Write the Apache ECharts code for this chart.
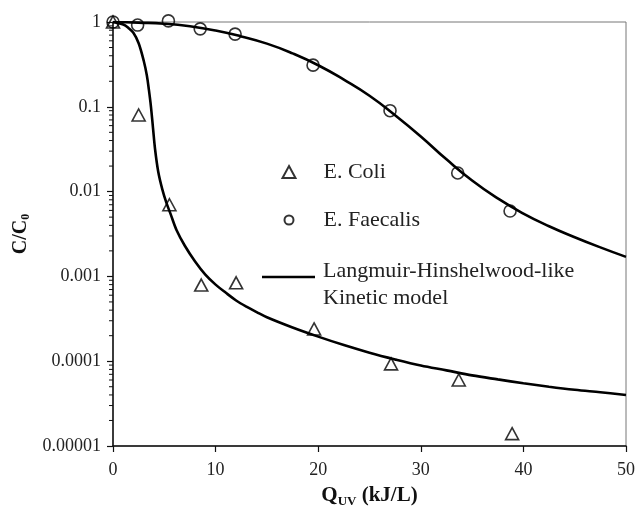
<!DOCTYPE html>
<html><head><meta charset="utf-8">
<script src="https://cdn.jsdelivr.net/npm/echarts@6/dist/echarts.min.js"></script>
<style>html,body{margin:0;padding:0;background:#fff}#c{width:635px;height:508px}</style>
</head><body><div id="c"></div>
<script>
const xMin = 0, xMax = 50, xStep = 10;
const yTickLabels = ['0.00001', '0.0001', '0.001', '0.01', '0.1', '1'];
const yMinorTicks = [
  0.00002, 0.00003, 0.00004, 0.00005, 0.00006, 0.00007, 0.00008, 0.00009,
  0.0002, 0.0003, 0.0004, 0.0005, 0.0006, 0.0007, 0.0008, 0.0009,
  0.002, 0.003, 0.004, 0.005, 0.006, 0.007, 0.008, 0.009,
  0.02, 0.03, 0.04, 0.05, 0.06, 0.07, 0.08, 0.09,
  0.2, 0.3, 0.4, 0.5, 0.6, 0.7, 0.8, 0.9
];
const eColi = [
  [0, 1], [2.5, 0.08], [5.5, 0.007], [8.6, 0.00079], [12.0, 0.00084],
  [19.6, 0.00024], [27.1, 0.000093], [33.7, 0.00006], [38.9, 0.000014]
];
const eFaecalis = [
  [0, 1], [2.4, 0.92], [5.4, 1.03], [8.5, 0.83], [11.9, 0.72],
  [19.5, 0.31], [27.0, 0.09], [33.6, 0.0166], [38.7, 0.0059]
];
const modelColi = [
  [0, 1], [1, 0.933], [1.5, 0.851], [2, 0.741], [2.5, 0.562], [3, 0.347], [3.3, 0.234],
  [3.5, 0.158], [3.7, 0.1], [3.9, 0.056], [4.1, 0.0316], [4.4, 0.0174], [4.8, 0.0107],
  [5.2, 0.0074], [5.6, 0.0055], [6.2, 0.0035], [7, 0.0023], [8, 0.0015], [9, 0.00105],
  [10, 0.00080], [11, 0.00064], [12, 0.00052], [13, 0.00044], [14, 0.00038], [15, 0.00033],
  [17.5, 0.00025], [20, 0.000195], [22.5, 0.000155], [25, 0.000126], [27.5, 0.000105],
  [30, 0.000089], [32.5, 0.000078], [35, 0.000068], [37.5, 0.000061], [40, 0.000055],
  [42.5, 0.00005], [45, 0.000046], [47.5, 0.000043], [50, 0.00004]
];
const modelFaecalis = [
  [0, 1], [2.5, 0.982], [5, 0.955], [7.5, 0.891], [10, 0.794], [12.5, 0.676], [15, 0.556],
  [17.5, 0.427], [20, 0.309], [22.5, 0.209], [25, 0.135], [27.5, 0.0794], [30, 0.0447],
  [32.5, 0.024], [35, 0.0135], [37.5, 0.0083], [40, 0.0055], [42.5, 0.0039], [45, 0.0029],
  [47.5, 0.0022], [50, 0.0017]
];
const legendNames = ['E. Coli', 'E. Faecalis', 'Langmuir-Hinshelwood-like', 'Kinetic model'];

const FONT = "'Liberation Serif', 'Times New Roman', serif";
const chart = echarts.init(document.getElementById('c'), null, {renderer: 'canvas'});
const hollow = {color: 'rgba(0,0,0,0)', borderColor: '#000', borderWidth: 1.6};
const legendText = {fontFamily: FONT, fontSize: 22, color: '#222', lineHeight: 24};

chart.setOption({
  animation: false,
  backgroundColor: '#fff',
  grid: {left: 113, right: 9, top: 22, bottom: 62, show: true, borderColor: '#777', borderWidth: 1,
         containLabel: false, outerBoundsMode: 'none'},
  legend: [
    {
      data: [{name: legendNames[0], icon: 'triangle'}],
      left: 281.5, top: 160, padding: 0, itemWidth: 13, itemHeight: 12, selectedMode: false,
      formatter: n => '{t|' + n + '}',
      textStyle: Object.assign({}, legendText, {rich: {t: Object.assign({}, legendText, {padding: [0, 0, 0, 23]})}})
    },
    {
      data: [{name: legendNames[1], icon: 'circle'}],
      left: 283.5, top: 208, padding: 0, itemWidth: 9, itemHeight: 9, selectedMode: false,
      formatter: n => '{t|' + n + '}',
      textStyle: Object.assign({}, legendText, {rich: {t: Object.assign({}, legendText, {padding: [0, 0, 0, 25]})}})
    },
    {
      data: [{name: 'model', icon: 'path://M0,0L53,0L53,2.6L0,2.6Z', itemStyle: {color: '#000', borderWidth: 0}}],
      left: 262, top: 242.5, padding: 0, itemWidth: 53, itemHeight: 14, selectedMode: false,
      formatter: () => '{e| }\n{t|' + legendNames[2] + '}\n{t|' + legendNames[3] + '}',
      textStyle: Object.assign({}, legendText, {rich: {
        e: {fontSize: 10, lineHeight: 15},
        t: Object.assign({}, legendText, {lineHeight: 27, padding: [0, 0, 0, 3]})
      }})
    }
  ],
  xAxis: {
    type: 'value', min: xMin, max: xMax, interval: xStep,
    name: '{q|Q}{s|UV}{q| (kJ/L)}', nameLocation: 'middle', nameGap: 38,
    nameTextStyle: {rich: {
      q: {fontFamily: FONT, fontSize: 21, fontWeight: 'bold', color: '#111', lineHeight: 24},
      s: {fontFamily: FONT, fontSize: 13, fontWeight: 'bold', color: '#111', lineHeight: 13, verticalAlign: 'bottom'}
    }},
    axisLine: {lineStyle: {color: '#111', width: 1.5}},
    axisTick: {inside: false, length: 6, lineStyle: {color: '#111', width: 1.2}},
    axisLabel: {fontFamily: FONT, fontSize: 18, color: '#222', margin: 15},
    splitLine: {show: false}
  },
  yAxis: {
    type: 'log', logBase: 10, min: 0.00001, max: 1, splitNumber: 5,
    name: '{c|C/C}{s|0}', nameLocation: 'middle', nameGap: 74, nameRotate: 90,
    nameTextStyle: {rich: {
      c: {fontFamily: FONT, fontSize: 20, fontWeight: 'bold', color: '#111', lineHeight: 22},
      s: {fontFamily: FONT, fontSize: 12, fontWeight: 'bold', color: '#111', lineHeight: 12, verticalAlign: 'bottom'}
    }},
    axisLine: {lineStyle: {color: '#111', width: 1.5}},
    axisTick: {inside: false, length: 6, lineStyle: {color: '#111', width: 1.2}},
    axisLabel: {
      fontFamily: FONT, fontSize: 18, color: '#222', margin: 12,
      formatter: v => yTickLabels[Math.round(Math.log10(v)) + 5]
    },
    minorTick: {show: false},
    splitLine: {show: false}
  },
  series: [
    {
      name: 'model', type: 'line', data: modelColi, symbol: 'none', smooth: 0.35,
      lineStyle: {color: '#000', width: 2.6}, itemStyle: {color: '#000'}, z: 2, silent: true
    },
    {
      name: 'model', type: 'line', data: modelFaecalis, symbol: 'none', smooth: 0.5,
      lineStyle: {color: '#000', width: 2.6}, itemStyle: {color: '#000'}, z: 2, silent: true
    },
    {
      name: legendNames[0], type: 'scatter', data: eColi, symbol: 'triangle', symbolSize: [13, 12],
      itemStyle: hollow, clip: false, z: 3
    },
    {
      name: legendNames[1], type: 'scatter', data: eFaecalis, symbol: 'circle', symbolSize: 12,
      itemStyle: hollow, clip: false, z: 3
    },
    {
      name: 'minorTicks', type: 'custom', silent: true, clip: false, z: 4,
      data: yMinorTicks.map(v => [0, v]),
      encode: {x: 0, y: 1},
      renderItem: (params, api) => {
        const p = api.coord([api.value(0), api.value(1)]);
        return {type: 'line', shape: {x1: p[0] - 4, y1: p[1], x2: p[0], y2: p[1]},
                style: {stroke: '#111', lineWidth: 1}};
      }
    }
  ]
});
</script>
</body></html>
